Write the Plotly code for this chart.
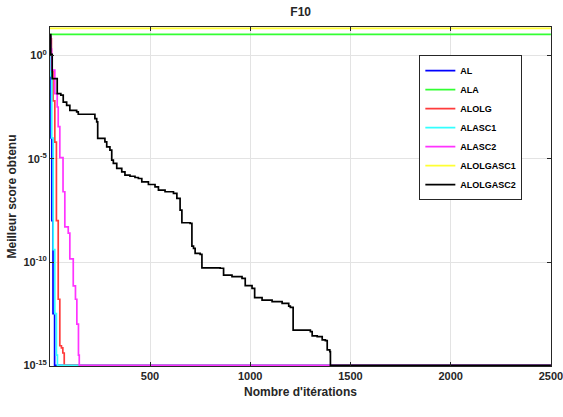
import plotly.graph_objects as go

# ---- data (iteration, log10 of best score) ----
N_ITER = 2500

al_it = [1, 3, 6, 10, 16, 24]
al_log = [0.9, -1.0, -4.0, -8.0, -12.5, -15.0]

ala_it = [1, 2500]
ala_log = [1.01, 1.01]

alolg_it = [1, 8, 16, 25, 33, 42, 50, 58, 65, 72]
alolg_log = [0.8, -0.8, -2.2, -4.2, -8.0, -11.8, -14.05, -14.15, -14.4, -15.0]

alasc1_it = [1, 5, 10, 17, 25, 33, 38]
alasc1_log = [0.5, -1.0, -4.0, -9.4, -12.5, -14.5, -15.0]

alasc2_it = [1, 5, 9, 25, 37, 42, 50, 66, 75, 92, 100, 117, 128, 135, 143, 147]
alasc2_log = [0.9, 0.3, -0.72, -1.85, -2.5, -3.45, -4.95, -6.6, -8.3, -8.6,
              -9.85, -11.15, -11.8, -13.0, -14.5, -15.0]

alolgasc1_it = [1, 2500]
alolgasc1_log = [1.30, 1.30]

alolgasc2_it = [1, 5, 12, 34, 37, 55, 67, 84, 100, 134, 142, 217, 225, 234, 239,
                259, 275, 284, 300, 309, 317, 334, 359, 375, 400, 425, 442, 459,
                492, 525, 542, 575, 617, 634, 650, 659, 700, 709, 717, 725, 750,
                759, 850, 867, 909, 959, 975, 1009, 1022, 1059, 1109, 1159, 1192,
                1200, 1214, 1300, 1309, 1334, 1359, 1375, 1384, 1397, 1400]
alolgasc2_log = [1.0, 0.05, -1.13, -1.13, -1.85, -1.93, -2.26, -2.42, -2.66, -2.74,
                 -2.85, -2.85, -3.06, -3.22, -4.02, -4.02, -4.19, -4.43, -4.59,
                 -5.07, -5.23, -5.47, -5.64, -5.80, -5.85, -5.91, -5.96, -6.12,
                 -6.25, -6.36, -6.52, -6.60, -6.68, -6.92, -7.49, -8.10, -8.13,
                 -9.23, -9.34, -9.58, -9.63, -10.28, -10.30, -10.63, -10.71,
                 -10.79, -11.14, -11.27, -11.72, -11.84, -11.92, -12.00, -12.13,
                 -12.19, -13.29, -13.37, -13.57, -13.61, -13.77, -13.80, -14.25,
                 -14.33, -15.0]

series = [
    ("AL", al_it, al_log, "#0000ff"),
    ("ALA", ala_it, ala_log, "#33ff33"),
    ("ALOLG", alolg_it, alolg_log, "#ff3b3b"),
    ("ALASC1", alasc1_it, alasc1_log, "#33ffff"),
    ("ALASC2", alasc2_it, alasc2_log, "#ff33ff"),
    ("ALOLGASC1", alolgasc1_it, alolgasc1_log, "#ffff33"),
    ("ALOLGASC2", alolgasc2_it, alolgasc2_log, "#000000"),
]

y_tickvals = [1e0, 1e-5, 1e-10, 1e-15]
y_ticktext = ["10<sup>0</sup>", "10<sup>-5</sup>", "10<sup>-10</sup>", "10<sup>-15</sup>"]
x_tickvals = [500, 1000, 1500, 2000, 2500]
x_ticktext = ["500", "1000", "1500", "2000", "2500"]

FONT = "Liberation Sans, Arial, sans-serif"

fig = go.Figure()
for name, its, logs, color in series:
    xs = list(its)
    ys = [10 ** v for v in logs]
    if xs[-1] < N_ITER:
        xs.append(N_ITER)
        ys.append(ys[-1])
    fig.add_trace(go.Scatter(x=xs, y=ys, name=name, mode="lines",
                             line=dict(color=color, width=1.7, shape="hv")))

axis_common = dict(showline=True, linecolor="#262626", linewidth=1, mirror="ticks",
                   ticks="inside", ticklen=4, tickcolor="#262626", automargin=False,
                   ticklabeloverflow="allow",
                   showgrid=True, gridcolor="#e3e3e3", gridwidth=1, zeroline=False,
                   tickfont=dict(family=FONT, size=11, color="#262626", weight="bold"))

fig.update_xaxes(range=[1, 2500.5], tickvals=x_tickvals, ticktext=x_ticktext,
                 title=dict(text="Nombre d'itérations", standoff=6,
                            font=dict(family=FONT, size=12, color="#262626", weight="bold")),
                 **axis_common)
fig.update_yaxes(type="log", range=[-15.03, 1.37], tickvals=y_tickvals, ticktext=y_ticktext,
                 title=dict(text="Meilleur score obtenu", standoff=4,
                            font=dict(family=FONT, size=12, color="#262626", weight="bold")),
                 **axis_common)

fig.update_layout(
    width=563, height=417,
    margin=dict(l=50, r=12, t=27, b=51),
    paper_bgcolor="white", plot_bgcolor="white",
    title=dict(text="F10", x=0.534, xanchor="center", y=0.972, yanchor="middle",
               font=dict(family=FONT, size=12, color="#262626", weight="bold")),
    legend=dict(x=0.84, y=0.917, xanchor="center", yanchor="top",
                bgcolor="white", bordercolor="#262626", borderwidth=1,
                font=dict(family=FONT, size=9, color="#000000", weight="bold"),
                tracegroupgap=0, itemwidth=30),
    showlegend=True,
)

fig.write_html("out.html")
